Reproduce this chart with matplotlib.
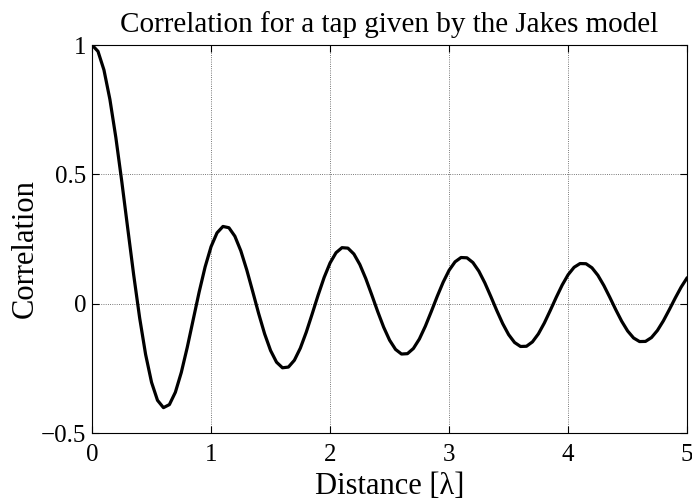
import matplotlib
matplotlib.use("Agg")
import matplotlib.pyplot as plt
import numpy as np

# distance in wavelengths, sampled every 0.05
distance = [round(0.05 * k, 2) for k in range(101)]

# correlation
correlation = [
    1.0000, 0.9755, 0.9037, 0.7900, 0.6425, 0.4720, 0.2906, 0.1109, -0.0550, -0.1961,
    -0.3042, -0.3736, -0.4020, -0.3902, -0.3426, -0.2659, -0.1689, -0.0617, 0.0452, 0.1420,
    0.2203, 0.2737, 0.2985, 0.2936, 0.2608, 0.2043, 0.1304, 0.0468, -0.0383, -0.1167,
    -0.1812, -0.2262, -0.2479, -0.2451, -0.2187, -0.1720, -0.1100, -0.0391, 0.0337, 0.1014,
    0.1575, 0.1970, 0.2165, 0.2147, 0.1920, 0.1513, 0.0969, 0.0342, -0.0305, -0.0908,
    -0.1412, -0.1769, -0.1947, -0.1933, -0.1732, -0.1367, -0.0875, -0.0308, 0.0280, 0.0830,
    0.1291, 0.1618, 0.1784, 0.1773, 0.1590, 0.1256, 0.0805, 0.0282, -0.0260, -0.0769,
    -0.1196, -0.1501, -0.1655, -0.1647, -0.1478, -0.1168, -0.0749, -0.0262, 0.0244, 0.0720,
    0.1120, 0.1406, 0.1551, 0.1544, 0.1387, 0.1097, 0.0703, 0.0246, -0.0231, -0.0679,
    -0.1056, -0.1327, -0.1465, -0.1459, -0.1311, -0.1037, -0.0665, -0.0232, 0.0219, 0.0644,
    0.1003,
]

xticks = [0, 1, 2, 3, 4, 5]
yticks = [-0.5, 0, 0.5, 1]
ytick_labels = ["\u22120.5", "0", "0.5", "1"]

plt.rcParams['font.family'] = ['Liberation Serif', 'DejaVu Serif']

fig = plt.figure(figsize=(6.92, 5.0), dpi=100)
ax = fig.add_axes([0.133, 0.134, 0.86, 0.776])

ax.plot(distance, correlation, color='black', linewidth=2.3,
        solid_joinstyle='round', solid_capstyle='round')

ax.set_xlim(0, 5)
ax.set_ylim(-0.5, 1)
ax.set_xticks(xticks)
ax.set_yticks(yticks)
ax.set_yticklabels(ytick_labels)

ax.grid(True, linestyle=':', color='black', linewidth=0.6, alpha=0.7)
ax.tick_params(direction='in', length=5, width=0.8, top=True, right=True, labelsize=18)
ax.tick_params(axis='x', pad=8)
ax.tick_params(axis='y', pad=4)
for s in ax.spines.values():
    s.set_linewidth(0.8)

ax.set_title('Correlation for a tap given by the Jakes model', fontsize=21, pad=9)
ax.set_xlabel('Distance [\u03bb]', fontsize=22, labelpad=4)
ax.set_ylabel('Correlation', fontsize=22)
ax.yaxis.set_label_coords(-0.088, 0.475)

fig.savefig('out.png', dpi=100)
